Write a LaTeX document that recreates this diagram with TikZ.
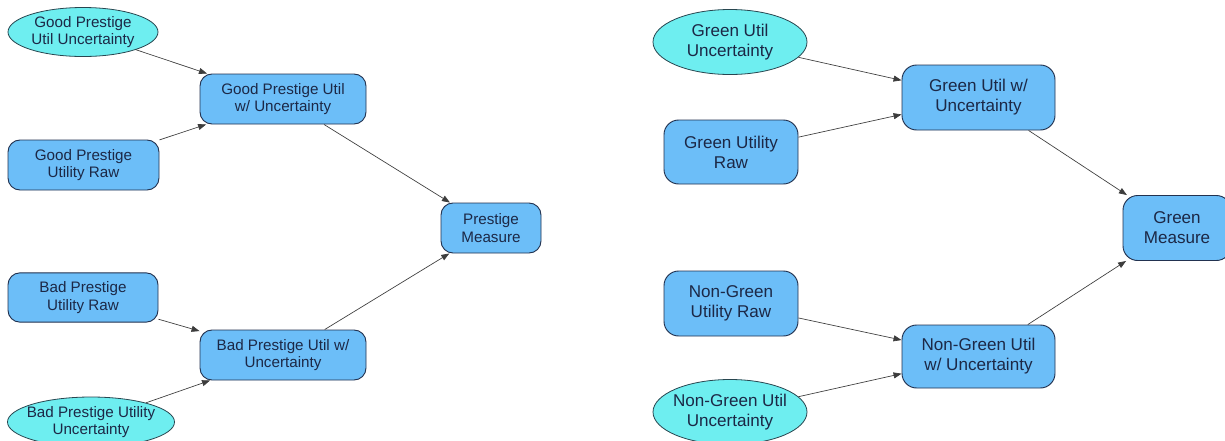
\documentclass[tikz,border=0pt]{standalone}
\usepackage{fontspec}
\setmainfont{Liberation Sans}
\usetikzlibrary{shapes.geometric,arrows.meta}
\definecolor{boxfill}{RGB}{108,190,248}
\definecolor{boxedge}{RGB}{34,50,80}
\definecolor{ovalfill}{RGB}{110,238,240}
\definecolor{ovaledge}{RGB}{40,70,80}
\definecolor{txt}{RGB}{28,40,70}
\definecolor{wire}{RGB}{60,60,60}
\tikzset{
  x=0.75pt, y=-0.75pt,
  varbox/.style={draw=boxedge, line width=0.7pt, fill=boxfill, rounded corners=9pt,
    align=center, text=txt, inner sep=0pt},
  oval/.style={ellipse, draw=ovaledge, line width=0.6pt, fill=ovalfill,
    align=center, text=txt, inner xsep=-4pt, inner ysep=0pt},
  small/.style={font=\fontsize{11.4}{13}\selectfont},
  large/.style={font=\fontsize{12.8}{15}\selectfont},
  link/.style={draw=wire, line width=0.5pt, -{Triangle[length=6pt,width=4.5pt]}},
}
\begin{document}
\begin{tikzpicture}
\useasboundingbox (0,0) rectangle (1225,440);
\clip (0,0) rectangle (1225,440);
\fill[white] (0,0) rectangle (1225,440);

% prestige model
\node[oval, small, minimum width=112.5pt, minimum height=36.75pt] (gpu) at (83,32) {Good Prestige\\Util Uncertainty};
\node[varbox, small, minimum width=124.5pt, minimum height=37.5pt] (gpw) at (283,99) {Good Prestige Util\\w/ Uncertainty};
\node[varbox, small, minimum width=113.25pt, minimum height=37.5pt] (gpr) at (83.5,165) {Good Prestige\\Utility Raw};
\node[varbox, small, minimum width=75pt, minimum height=37.5pt] (pm) at (491,228) {Prestige\\Measure};
\node[varbox, small, minimum width=112.5pt, minimum height=37pt] (bpr) at (83,297.5) {Bad Prestige\\Utility Raw};
\node[varbox, small, minimum width=124.5pt, minimum height=37.5pt] (bpw) at (283,355) {Bad Prestige Util w/\\Uncertainty};
\node[oval, small, minimum width=125.25pt, minimum height=37.5pt] (bpu) at (91,422) {Bad Prestige Utility\\Uncertainty};

\draw[link] (gpu) -- (gpw);
\draw[link] (gpr) -- (gpw);
\draw[link] (gpw) -- (pm);
\draw[link] (bpr) -- (bpw);
\draw[link] (bpu) -- (bpw);
\draw[link] (bpw) -- (pm);

% green model
\begin{scope}[varbox/.append style={rounded corners=11pt}]
\node[oval, large, minimum width=115.5pt, minimum height=48.75pt] (gu) at (730,42) {Green Util\\Uncertainty};
\node[varbox, large, minimum width=114.75pt, minimum height=48.75pt] (guw) at (978.5,97.5) {Green Util w/\\Uncertainty};
\node[varbox, large, minimum width=100.5pt, minimum height=48pt] (gur) at (731,152) {Green Utility\\Raw};
\node[varbox, large, minimum width=81pt, minimum height=48.75pt] (gm) at (1177,228) {Green\\Measure};
\node[varbox, large, minimum width=100.5pt, minimum height=48.75pt] (ngr) at (731,303.5) {Non-Green\\Utility Raw};
\node[varbox, large, minimum width=114.75pt, minimum height=47.25pt] (ngw) at (978.5,356.5) {Non-Green Util\\w/ Uncertainty};
\node[oval, large, minimum width=115.5pt, minimum height=48.75pt] (ngu) at (730,412) {Non-Green Util\\Uncertainty};
\end{scope}

\draw[link] (gu) -- (guw);
\draw[link] (gur) -- (guw);
\draw[link] (guw) -- (gm);
\draw[link] (ngr) -- (ngw);
\draw[link] (ngu) -- (ngw);
\draw[link] (ngw) -- (gm);
\end{tikzpicture}
\end{document}
